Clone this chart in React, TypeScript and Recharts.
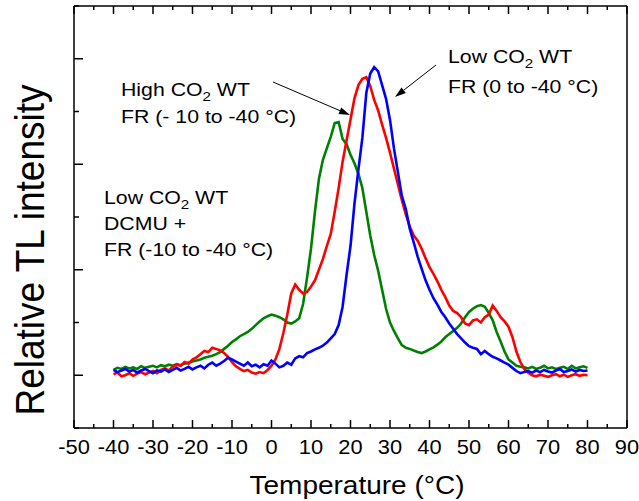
import { Line, LineChart, XAxis, YAxis } from 'recharts';

const temps = [
  -40, -39, -38, -37, -36, -35, -34, -33, -32, -31,
  -30, -29, -28, -27, -26, -25, -24, -23, -22, -21,
  -20, -19, -18, -17, -16, -15, -14, -13, -12, -11,
  -10, -9, -8, -7, -6, -5, -4, -3, -2, -1,
  0, 1, 2, 3, 4, 5, 6, 7, 8, 9,
  10, 11, 12, 13, 14, 15, 16, 17, 18, 19,
  20, 21, 22, 23, 24, 25, 26, 27, 28, 29,
  30, 31, 32, 33, 34, 35, 36, 37, 38, 39,
  40, 41, 42, 43, 44, 45, 46, 47, 48, 49,
  50, 51, 52, 53, 54, 55, 56, 57, 58, 59,
  60, 61, 62, 63, 64, 65, 66, 67, 68, 69,
  70, 71, 72, 73, 74, 75, 76, 77, 78, 79,
  80,
];

// Low CO2 WT, DCMU + FR (-10 to -40 °C)
const greenTL = [
  1.10, 1.14, 1.12, 1.16, 1.13, 1.15, 1.12, 1.17, 1.14, 1.16,
  1.18, 1.15, 1.19, 1.17, 1.20, 1.18, 1.21, 1.19, 1.22, 1.24,
  1.26, 1.28, 1.30, 1.33, 1.35, 1.37, 1.40, 1.44, 1.50, 1.56,
  1.63, 1.68, 1.74, 1.78, 1.82, 1.88, 1.95, 2.02, 2.08, 2.12,
  2.15, 2.13, 2.10, 2.06, 2.00, 1.98, 2.02, 2.08, 2.35, 2.85,
  3.40, 4.10, 4.72, 5.08, 5.30, 5.52, 5.78, 5.80, 5.48, 5.38,
  5.18, 5.02, 4.82, 4.55, 4.10, 3.65, 3.28, 2.98, 2.62, 2.26,
  2.00, 1.84, 1.70, 1.57, 1.52, 1.50, 1.47, 1.44, 1.42, 1.45,
  1.49, 1.53, 1.58, 1.64, 1.72, 1.78, 1.84, 1.90, 1.98, 2.10,
  2.20, 2.26, 2.31, 2.33, 2.30, 2.18, 2.04, 1.82, 1.64, 1.45,
  1.30, 1.24, 1.18, 1.16, 1.15, 1.13, 1.16, 1.12, 1.14, 1.18,
  1.13, 1.15, 1.12, 1.14, 1.16, 1.12, 1.18, 1.13, 1.15, 1.17,
  1.14,
];

// High CO2 WT, FR (-10 to -40 °C)
const redTL = [
  1.02, 1.05, 0.98, 1.00, 1.04, 0.99, 1.03, 1.06, 1.02, 1.05,
  1.08, 1.04, 1.10, 1.13, 1.09, 1.16, 1.20, 1.18, 1.25, 1.22,
  1.30, 1.34, 1.40, 1.46, 1.44, 1.52, 1.50, 1.47, 1.42, 1.35,
  1.25, 1.17, 1.12, 1.08, 1.10, 1.05, 1.03, 1.06, 1.04, 1.10,
  1.18, 1.30, 1.50, 1.80, 2.15, 2.55, 2.72, 2.62, 2.55, 2.58,
  2.68, 2.80, 3.00, 3.20, 3.45, 3.68, 4.10, 4.55, 5.05, 5.45,
  5.85, 6.25, 6.50, 6.62, 6.65, 6.48, 6.22, 6.02, 5.75, 5.50,
  5.22, 4.92, 4.62, 4.32, 4.05, 3.82, 3.65, 3.55, 3.40, 3.22,
  3.05, 2.92, 2.78, 2.62, 2.48, 2.32, 2.22, 2.18, 2.10, 1.98,
  1.95, 2.04, 2.06, 2.00, 2.10, 2.15, 2.32, 2.22, 2.10, 2.02,
  1.92, 1.72, 1.45, 1.25, 1.12, 1.05, 1.00, 0.98, 1.01, 0.99,
  0.97, 1.00, 1.02, 0.98, 1.01, 0.97, 1.00, 1.02, 0.99, 1.01,
  1.00,
];

// Low CO2 WT, FR (0 to -40 °C)
const blueTL = [
  1.10, 1.06, 1.09, 1.12, 1.07, 1.10, 1.05, 1.09, 1.12, 1.08,
  1.04, 1.09, 1.07, 1.11, 1.06, 1.10, 1.14, 1.09, 1.12, 1.16,
  1.11, 1.15, 1.18, 1.13, 1.20, 1.24, 1.18, 1.22, 1.27, 1.33,
  1.30, 1.26, 1.22, 1.18, 1.24, 1.17, 1.20, 1.15, 1.21, 1.18,
  1.28, 1.22, 1.15, 1.18, 1.24, 1.20, 1.32, 1.36, 1.34, 1.42,
  1.45, 1.49, 1.52, 1.56, 1.62, 1.70, 1.78, 1.95, 2.30, 2.90,
  3.45, 4.25, 4.90, 5.50, 6.35, 6.72, 6.84, 6.76, 6.50, 6.24,
  5.84, 5.30, 4.85, 4.40, 4.15, 3.78, 3.52, 3.25, 3.02, 2.80,
  2.62, 2.46, 2.34, 2.20, 2.10, 1.98, 1.88, 1.78, 1.70, 1.62,
  1.55, 1.52, 1.50, 1.40, 1.46, 1.40, 1.35, 1.32, 1.28, 1.24,
  1.20, 1.14, 1.08, 1.04, 1.06, 1.08, 1.05, 1.09, 1.06, 1.10,
  1.07, 1.05, 1.09, 1.12, 1.06, 1.08, 1.11, 1.07, 1.10, 1.08,
  1.09,
];

const xTicks = [
  -50, -45, -40, -35, -30, -25, -20, -15, -10, -5, 0, 5, 10, 15, 20, 25, 30,
  35, 40, 45, 50, 55, 60, 65, 70, 75, 80, 85, 90,
];
const yTicks = [0, 1, 2, 3, 4, 5, 6, 7, 8];

const rows = temps.map((t, i) => ({
  t,
  green: greenTL[i],
  red: redTL[i],
  blue: blueTL[i],
}));

const FONT = '"Liberation Sans", Arial, sans-serif';
const SX = 1.12;

function BottomTick({ x, y, payload }: any) {
  const major = payload.value % 10 === 0;
  return (
    <g>
      <line x1={x} x2={x} y1={y} y2={y - (major ? 8 : 4)} stroke="#000" strokeWidth={1.5} />
      {major && (
        <text
          transform={`translate(${x},${y + 26}) scale(${SX},1)`}
          textAnchor="middle"
          fontFamily={FONT}
          fontSize={19.5}
          fill="#000"
        >
          {payload.value}
        </text>
      )}
    </g>
  );
}

function TopTick({ x, y, payload }: any) {
  const major = payload.value % 10 === 0;
  return <line x1={x} x2={x} y1={y} y2={y + (major ? 8 : 4)} stroke="#000" strokeWidth={1.5} />;
}

function LeftTick({ x, y, payload }: any) {
  const major = payload.value % 2 === 1;
  return <line x1={x} x2={x + (major ? 9 : 5)} y1={y} y2={y} stroke="#000" strokeWidth={1.5} />;
}

function RightTick({ x, y }: any) {
  return <line x1={x} x2={x - 8} y1={y} y2={y} stroke="#000" strokeWidth={1.5} />;
}

function Label2({ x, y, head, tail }: { x: number; y: number; head: string; tail: string }) {
  return (
    <text transform={`translate(${x},${y}) scale(${SX},1)`} fontFamily={FONT} fontSize={19} fill="#000">
      {head}
      <tspan fontSize={13.5} dy={5}>2</tspan>
      <tspan dy={-5}>{tail}</tspan>
    </text>
  );
}

function Plain({ x, y, children }: { x: number; y: number; children: string }) {
  return (
    <text transform={`translate(${x},${y}) scale(${SX},1)`} fontFamily={FONT} fontSize={19} fill="#000">
      {children}
    </text>
  );
}

function Arrow({ x1, y1, x2, y2 }: { x1: number; y1: number; x2: number; y2: number }) {
  const a = Math.atan2(y2 - y1, x2 - x1);
  const len = 11;
  const w = 3.5;
  const bx = x2 - len * Math.cos(a);
  const by = y2 - len * Math.sin(a);
  const px = -Math.sin(a) * w;
  const py = Math.cos(a) * w;
  return (
    <g>
      <line x1={x1} y1={y1} x2={bx} y2={by} stroke="#000" strokeWidth={1} />
      <polygon points={`${x2},${y2} ${bx + px},${by + py} ${bx - px},${by - py}`} fill="#000" />
    </g>
  );
}

const axisLine = { stroke: '#000', strokeWidth: 1.5 };

export default function App() {
  return (
    <div style={{ position: 'relative', width: 639, height: 501, background: '#fff' }}>
      <style>{'body{margin:0}'}</style>
      <LineChart
        width={639}
        height={501}
        data={rows}
        margin={{ top: 2, right: 2, bottom: 43, left: 54 }}
      >
        <XAxis
          xAxisId="b"
          dataKey="t"
          type="number"
          domain={[-50, 90]}
          ticks={xTicks}
          interval={0}
          height={30}
          tickSize={0}
          tickMargin={0}
          tickLine={false}
          axisLine={axisLine}
          tick={(p: any) => <BottomTick {...p} />}
        />
        <XAxis
          xAxisId="t"
          orientation="top"
          dataKey="t"
          type="number"
          domain={[-50, 90]}
          ticks={xTicks}
          interval={0}
          height={4}
          tickSize={0}
          tickMargin={0}
          tickLine={false}
          axisLine={axisLine}
          tick={(p: any) => <TopTick {...p} />}
        />
        <YAxis
          yAxisId="l"
          type="number"
          domain={[0, 8]}
          ticks={yTicks}
          interval={0}
          width={20}
          tickSize={0}
          tickMargin={0}
          tickLine={false}
          axisLine={axisLine}
          tick={(p: any) => <LeftTick {...p} />}
        />
        <YAxis
          yAxisId="r"
          orientation="right"
          type="number"
          domain={[0, 8]}
          ticks={yTicks}
          interval={0}
          width={10}
          tickSize={0}
          tickMargin={0}
          tickLine={false}
          axisLine={axisLine}
          tick={(p: any) => <RightTick {...p} />}
        />
        <Line xAxisId="b" yAxisId="l" dataKey="green" stroke="#008000" strokeWidth={2.6} dot={false} isAnimationActive={false} />
        <Line xAxisId="b" yAxisId="l" dataKey="red" stroke="#ff0000" strokeWidth={2.6} dot={false} isAnimationActive={false} />
        <Line xAxisId="b" yAxisId="l" dataKey="blue" stroke="#0000ff" strokeWidth={2.6} dot={false} isAnimationActive={false} />
      </LineChart>
      <svg width={639} height={501} style={{ position: 'absolute', left: 0, top: 0, pointerEvents: 'none' }}>
        <Label2 x={448} y={63} head="Low CO" tail=" WT" />
        <Plain x={448} y={93}>FR (0 to -40 °C)</Plain>
        <Label2 x={121} y={96} head="High CO" tail=" WT" />
        <Plain x={121} y={123}>FR (- 10 to -40 °C)</Plain>
        <Label2 x={104} y={204} head="Low CO" tail=" WT" />
        <Plain x={104} y={230}>DCMU +</Plain>
        <Plain x={104} y={256}>FR (-10 to -40 °C)</Plain>
        <Arrow x1={273} y1={82} x2={350} y2={115} />
        <Arrow x1={436} y1={65} x2={395} y2={97} />
        <text
          transform={`translate(357,494) scale(${SX},1)`}
          textAnchor="middle"
          fontFamily={FONT}
          fontSize={25}
          fill="#000"
        >
          Temperature (°C)
        </text>
        <text
          transform={`translate(44,250) scale(${SX},1) rotate(-90)`}
          textAnchor="middle"
          fontFamily={FONT}
          fontSize={37}
          fill="#000"
        >
          Relative TL intensity
        </text>
      </svg>
    </div>
  );
}
